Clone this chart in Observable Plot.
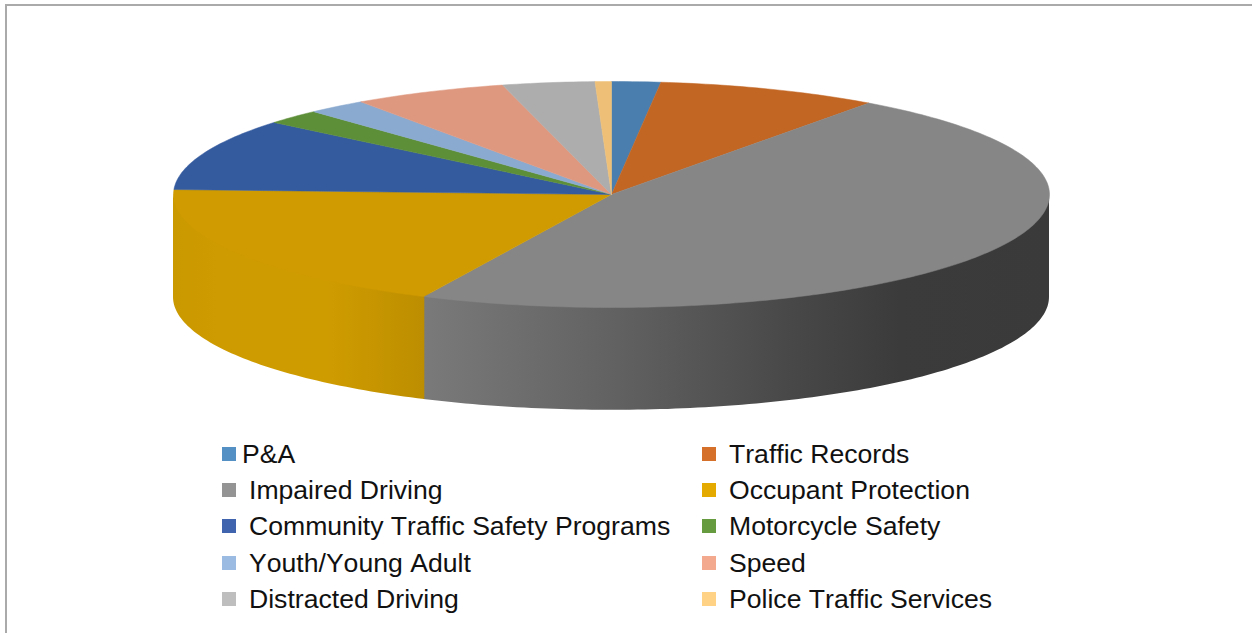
<!DOCTYPE html>
<html>
<head>
<meta charset="utf-8">
<script src="https://cdn.jsdelivr.net/npm/d3@7"></script>
<script src="https://cdn.jsdelivr.net/npm/@observablehq/plot@0.6"></script>
<style>
  html, body { margin: 0; padding: 0; background: #fff; overflow: hidden; }
  #page { position: relative; width: 1252px; height: 633px; overflow: hidden; }
  #frame { position: absolute; left: 5px; top: 4px; right: 0; bottom: -4px;
           border-left: 2px solid #aaaaaa; border-top: 2px solid #aaaaaa; pointer-events: none; }
  #legend { position: absolute; left: 0; top: 430px; width: 1252px; height: 203px;
            font-family: "Liberation Sans", Arial, sans-serif; font-size: 26.6px; font-kerning: none; color: #111; }
  .sw { position: absolute; width: 14px; height: 14px; }
  .lb { position: absolute; white-space: nowrap; line-height: 30px; }
</style>
</head>
<body>
<div id="page"><div id="chart"></div><div id="legend"></div><div id="frame"></div></div>
<script>
// Slice data, read clockwise from 12 o'clock (percent of the whole)
const categories = ["P&A", "Traffic Records", "Impaired Driving", "Occupant Protection",
  "Community Traffic Safety Programs", "Motorcycle Safety", "Youth/Young Adult", "Speed",
  "Distracted Driving", "Police Traffic Services"];
const values = [1.8, 8.2, 47.05, 18.65, 10.3, 2.1, 2.2, 5.7, 3.4, 0.6];
const topColors = ["#4a7eae", "#c26624", "#868686", "#cf9b00", "#355b9f",
  "#5d8e38", "#8baacf", "#de9880", "#adadad", "#eec077"];
const legendColors = ["#5590c5", "#d4702a", "#949494", "#e5aa00", "#4065ae",
  "#669b40", "#9cbbe2", "#f3a98d", "#bebebe", "#ffd285"];

// Shading of the visible outer wall, by horizontal position on the unit disc
const impairedWallStops = [[-0.43, "#7a7a7a"], [0, "#626262"], [0.41, "#484848"], [0.66, "#3b3b3b"], [1, "#3a3a3a"]];
const occupantWallStops = [[-1, "#ca9900"], [-0.9, "#ce9b00"], [-0.65, "#cf9c00"], [-0.43, "#bd8e00"]];
const wallDepth = 0.91;   // disc thickness, in disc radii
const wallTuck = 0.03;    // how far each wall runs under the top face, in disc radii
const wallOverlap = 0.15; // degrees by which the later wall overlaps the earlier one

const total = d3.sum(values);
const cum = d3.cumsum(values);
const startAngle = i => (i === 0 ? 0 : cum[i - 1]) / total * 360;
const endAngle = i => cum[i] / total * 360;
const px = a => Math.sin(a * Math.PI / 180);
const py = a => Math.cos(a * Math.PI / 180);

// Top face: one polygon per slice
const topFace = categories.flatMap((name, i) => {
  const a0 = startAngle(i), a1 = endAngle(i), n = Math.max(2, Math.ceil(a1 - a0));
  const pts = [{name, color: topColors[i], x: 0, y: 0}];
  for (let k = 0; k <= n; ++k) {
    const a = a0 + (a1 - a0) * k / n;
    pts.push({name, color: topColors[i], x: px(a), y: py(a)});
  }
  pts.push({name, color: topColors[i], x: 0, y: 0});
  return pts;
});

// Outer wall of a slice: the part of its arc on the near half of the disc
const wallOf = (i, overlap = 0) => {
  const a0 = Math.max(90, startAngle(i) - overlap), a1 = Math.min(270, endAngle(i));
  const n = Math.ceil(a1 - a0), out = [];
  for (let k = 0; k <= n; ++k) {
    const a = a0 + (a1 - a0) * k / n;
    out.push({x: px(a), y1: py(a) + wallTuck, y2: py(a) - wallDepth});
  }
  return out;
};

// A custom mark that defines a horizontal gradient in the plot's own x scale
const gradientDef = (id, stops) => (index, scales) => {
  const ns = "http://www.w3.org/2000/svg";
  const defs = document.createElementNS(ns, "defs");
  const grad = document.createElementNS(ns, "linearGradient");
  grad.setAttribute("id", id);
  grad.setAttribute("gradientUnits", "userSpaceOnUse");
  grad.setAttribute("x1", scales.x(-1));
  grad.setAttribute("x2", scales.x(1));
  grad.setAttribute("y1", 0);
  grad.setAttribute("y2", 0);
  for (const [pos, color] of stops) {
    const stop = document.createElementNS(ns, "stop");
    stop.setAttribute("offset", (pos + 1) / 2);
    stop.setAttribute("stop-color", color);
    grad.appendChild(stop);
  }
  defs.appendChild(grad);
  return defs;
};

const pieChart = Plot.plot({
  width: 1252,
  height: 430,
  margin: 0,
  style: {background: "transparent"},
  x: {axis: null, domain: [-1, 1], range: [173, 1049]},
  y: {axis: null, domain: [1, -1], range: [81, 307]},
  color: {type: "identity"},
  marks: [
    gradientDef("wall-impaired", impairedWallStops),
    gradientDef("wall-occupant", occupantWallStops),
    Plot.areaY(wallOf(2), {x: "x", y1: "y1", y2: "y2", fill: "url(#wall-impaired)", curve: "linear"}),
    Plot.areaY(wallOf(3, wallOverlap), {x: "x", y1: "y1", y2: "y2", fill: "url(#wall-occupant)", curve: "linear"}),
    Plot.line(topFace, {x: "x", y: "y", z: "name", fill: "color", stroke: "color", strokeWidth: 0.5, curve: "linear"})
  ]
});
document.getElementById("chart").appendChild(pieChart);

// Legend below the plot: two columns, read row by row
const legendBox = document.getElementById("legend");
const rowTops = [447, 483, 519, 556, 592];
categories.forEach((name, i) => {
  const col = i % 2, row = (i - col) / 2;
  const sw = document.createElement("div");
  sw.className = "sw";
  sw.style.left = (col ? 702 : 222) + "px";
  sw.style.top = (rowTops[row] - 430) + "px";
  sw.style.background = legendColors[i];
  legendBox.appendChild(sw);
  const lb = document.createElement("div");
  lb.className = "lb";
  lb.textContent = name;
  lb.style.left = (col ? 729 : (i === 0 ? 242 : 249)) + "px";
  lb.style.top = (rowTops[row] - 430 - 8) + "px";
  legendBox.appendChild(lb);
});
</script>
</body>
</html>
